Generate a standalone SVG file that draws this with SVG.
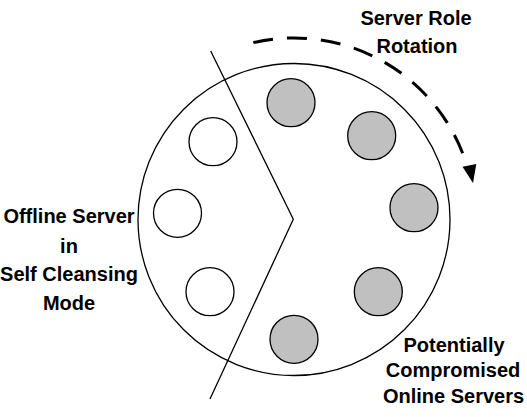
<svg xmlns="http://www.w3.org/2000/svg" width="527" height="417" viewBox="0 0 527 417">
  <style>
    .lbl { font-family: "Liberation Sans", Arial, sans-serif; font-weight: bold; font-size: 20px; fill: #000; text-anchor: middle; }
    .srv { stroke: #000; stroke-width: 1.3; }
    .on { fill: #c0c0c0; }
    .off { fill: #fff; }
  </style>
  <rect width="527" height="417" fill="#fff"/>
  <g id="ring">
    <circle cx="294" cy="219.5" r="156" fill="none" stroke="#000" stroke-width="1.3"/>
  </g>
  <g id="divider">
    <polyline points="210.7,51 293.3,219.3 210,399" fill="none" stroke="#000" stroke-width="1.3"/>
  </g>
  <g id="online-1"><circle class="srv on" cx="291" cy="102.7" r="24"/></g>
  <g id="online-2"><circle class="srv on" cx="371.7" cy="135.7" r="24"/></g>
  <g id="online-3"><circle class="srv on" cx="414" cy="207.7" r="24"/></g>
  <g id="online-4"><circle class="srv on" cx="378.3" cy="291.7" r="24"/></g>
  <g id="online-5"><circle class="srv on" cx="294" cy="339.3" r="24"/></g>
  <g id="offline-1"><circle class="srv off" cx="213" cy="141.7" r="24"/></g>
  <g id="offline-2"><circle class="srv off" cx="177.5" cy="213.3" r="24"/></g>
  <g id="offline-3"><circle class="srv off" cx="210" cy="291.7" r="24"/></g>
  <g id="connectors">
    <path d="M 253.3 42.6 A 181 181 0 0 1 467.1 166.1" fill="none" stroke="#000" stroke-width="3" stroke-dasharray="20 14"/>
    <polygon points="473,183 476.3,164 462.5,166.8" fill="#000"/>
  </g>
  <g id="label-rotation">
    <text class="lbl" x="416" y="25">Server Role</text>
    <text class="lbl" x="417" y="53">Rotation</text>
  </g>
  <g id="label-offline">
    <text class="lbl" x="69" y="223">Offline Server</text>
    <text class="lbl" x="69" y="253">in</text>
    <text class="lbl" x="69" y="281">Self Cleansing</text>
    <text class="lbl" x="69" y="310">Mode</text>
  </g>
  <g id="label-online">
    <text class="lbl" x="454" y="352">Potentially</text>
    <text class="lbl" x="453" y="377">Compromised</text>
    <text class="lbl" x="453.5" y="403">Online Servers</text>
  </g>
</svg>
